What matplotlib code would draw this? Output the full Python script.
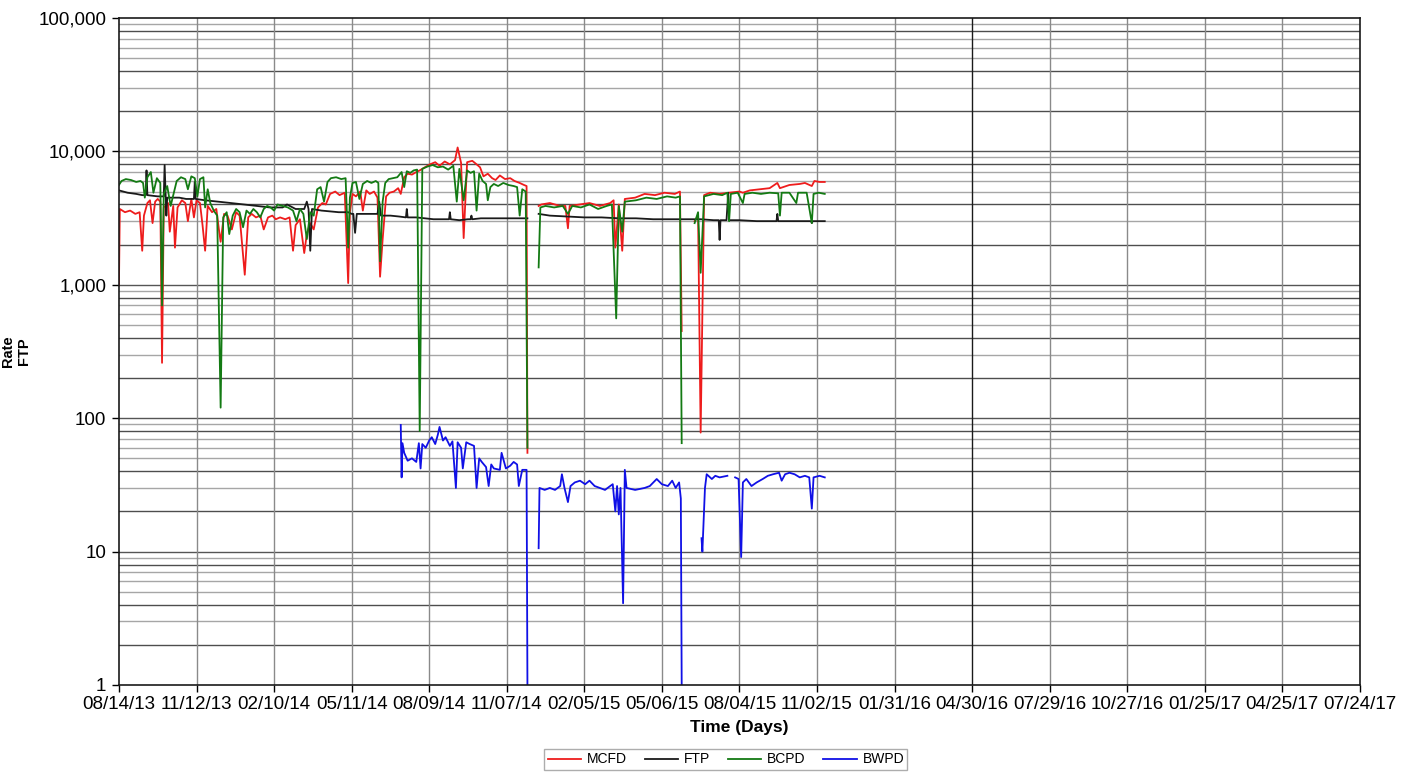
import numpy as np
import matplotlib
matplotlib.use("Agg")
import matplotlib.pyplot as plt
from matplotlib.ticker import FixedLocator, NullFormatter

plt.rcParams["font.family"] = ["Liberation Sans", "DejaVu Sans"]

START = np.datetime64("2013-08-14")
NAN = np.nan

# days since 08/14/13 and rates
mcfd_day = [0, 1, 7, 13, 19, 24, 27, 29, 33, 36, 39, 42, 45, 48, 50, 52, 57, 59, 63, 65,
            68, 73, 77, 80, 84, 87, 90, 94, 97, 100, 103, 108, 113, 116, 118, 122, 126, 131, 136, 140,
            146, 150, 154, 159, 164, 168, 173, 178, 182, 187, 193, 198, 202, 205, 210, 215, 218, 222, 226, 231,
            236, 240, 245, 251, 256, 262, 266, 268, 271, 275, 280, 283, 287, 291, 296, 300, 303, 306, 310, 314,
            319, 324, 327, 331, 335, 340, 345, 349, 355, 361, 367, 372, 378, 384, 390, 393, 397, 400, 404, 410,
            415, 419, 423, 428, 433, 437, 442, 448, 454, 459, 465, 470, 473, 474, 480,
            487, 490, 500, 512, 518, 521, 523, 535, 546, 558, 570, 574, 576, 580, 584, 587, 599, 610, 622, 633,
            645, 651, 653, 660, 668, 672, 675, 679, 686, 697, 708, 720, 724, 732, 744, 755, 764, 767, 778, 790,
            796, 804, 807, 813, 819]
mcfd_val = [1000, 3700, 3500, 3600, 3400, 3500, 1800, 3300, 4100, 4300, 2900, 4200, 4400, 4200, 260, 3800, 4100, 2500, 3900, 1900,
            3800, 4300, 4100, 3000, 4400, 3200, 4300, 4100, 2800, 1800, 3900, 3500, 3700, 2600, 2100, 3400, 3300, 2600, 3500, 3300,
            1190, 3200, 3400, 3200, 3300, 2600, 3200, 3300, 3100, 3200, 3100, 3200, 1800, 2800, 3100, 1730, 2400, 2900, 2600, 3800,
            4100, 4000, 4800, 5000, 4700, 4900, 1030, 3500, 4800, 4600, 5000, 3600, 5100, 4800, 5000, 4500, 1150, 2200, 4600, 4900,
            5000, 5300, 4800, 6400, 6800, 6700, 7000, 7200, 7600, 8000, 8300, 7800, 8400, 8000, 8600, 10700, 8200, 2240, 8300, 8500,
            8000, 7600, 6500, 6800, 6300, 6100, 6600, 6200, 6300, 6000, 5800, 5600, 5500, 55, NAN,
            3900, 4000, 4100, 3900, 3900, 2650, 3900, 4000, 4100, 3900, 4100, 4300, 1900, 4000, 1800, 4400, 4500, 4800, 4700, 4900,
            4800, 5000, 450, NAN, 3000, 3300, 78, 4700, 4900, 4800, 4900, 5000, 4900, 5100, 5200, 5300, 5800, 5300, 5600, 5700,
            5800, 5500, 6000, 5900, 5900]

ftp_day = [0, 5, 10, 20, 27, 31, 32, 33, 45, 52, 53, 55, 56, 70, 78, 87, 88, 89, 100, 115,
           130, 145, 160, 175, 190, 195, 205, 215, 218, 220, 222, 224, 235, 245, 255, 266, 270, 272, 274, 276,
           290, 300, 302, 304, 315, 325, 333, 334, 335, 345, 355, 365, 375, 383, 384, 385, 395, 405, 408, 409,
           410, 420, 435, 450, 465, 474, 480,
           487, 500, 520, 540, 560, 580, 600, 620, 640, 653, 660, 675, 690, 696, 697, 698, 705, 707, 708,
           720, 740, 763, 764, 765, 790, 803, 804, 805, 819]
ftp_val = [5100, 5000, 4900, 4800, 4700, 4700, 7200, 4700, 4600, 4600, 7900, 3300, 4500, 4500, 4400, 4400, 5900, 4400, 4300, 4200,
           4100, 4000, 3900, 3800, 3800, 4000, 3700, 3700, 4200, 3700, 1800, 3700, 3600, 3550, 3500, 3500, 3400, 3400, 2450, 3400,
           3400, 3400, 4200, 3300, 3300, 3250, 3200, 3700, 3200, 3200, 3150, 3100, 3100, 3100, 3500, 3100, 3050, 3100, 3100, 3300,
           3100, 3150, 3150, 3150, 3150, 3150, NAN,
           3400, 3300, 3250, 3200, 3200, 3150, 3150, 3100, 3100, 3100, 3100, 3100, 3050, 3050, 2170, 3050, 3050, 4900, 3050,
           3050, 3000, 3000, 3400, 3000, 3000, 3000, 2900, 3000, 3000]

bcpd_day = [0, 3, 8, 14, 20, 25, 28, 30, 33, 37, 40, 44, 48, 50, 52, 56, 60, 64, 67, 72,
            77, 80, 84, 88, 91, 94, 98, 100, 103, 106, 110, 114, 118, 121, 125, 128, 132, 136, 140, 144,
            148, 152, 156, 160, 164, 168, 172, 176, 180, 184, 190, 196, 202, 206, 210, 214, 218, 222, 226, 230,
            234, 238, 242, 246, 252, 258, 263, 266, 268, 271, 275, 279, 283, 288, 293, 298, 301, 303, 306, 309,
            313, 318, 323, 328, 331, 334, 338, 342, 346, 349, 352, 358, 364, 370, 376, 382, 388, 392, 395, 400,
            404, 408, 412, 415, 418, 422, 426, 428, 431, 435, 440, 446, 452, 458, 462, 465, 468, 472, 474, 480,
            487, 489, 495, 505, 515, 521, 526, 536, 546, 556, 566, 572, 577, 580, 584, 587, 600, 612, 624, 636,
            646, 651, 653, 660, 668, 672, 675, 679, 690, 700, 706, 708, 710, 718, 724, 726, 735, 745, 755, 765,
            767, 769, 778, 786, 788, 798, 804, 806, 812, 819]
bcpd_val = [5600, 6000, 6200, 6100, 5900, 6000, 5800, 4500, 6400, 7000, 4900, 6300, 5800, 700, 4800, 5500, 3900, 5000, 6000, 6400,
            6200, 5200, 6500, 6300, 4600, 6200, 6400, 3800, 5200, 4100, 3600, 3300, 120, 3200, 3500, 2400, 3300, 3700, 3500, 2700,
            3600, 3400, 3700, 3500, 3200, 3700, 3900, 3800, 3600, 4000, 3900, 3800, 3600, 3000, 3700, 3400, 2200, 3500, 3300, 5200,
            5400, 4200, 5900, 6300, 6400, 6200, 6300, 1900, 4500, 5800, 5900, 4400, 5700, 6000, 5800, 6000, 5800, 1500, 4200, 5800,
            6200, 6300, 6400, 7000, 5400, 7100, 6900, 7200, 7300, 80, 7400, 7700, 7900, 7600, 7700, 7300, 7800, 4200, 7400, 4300,
            7200, 6900, 7100, 3600, 6800, 6000, 5700, 4300, 5400, 5700, 5500, 5800, 5600, 5500, 5400, 3300, 5200, 5000, 60, NAN,
            1350, 3800, 3900, 3800, 3900, 3400, 3900, 3800, 4000, 3700, 3900, 4000, 560, 3900, 2500, 4200, 4300, 4500, 4400, 4600,
            4500, 4600, 65, NAN, 2900, 3500, 1230, 4600, 4800, 4700, 4900, 3000, 4800, 4900, 4100, 4800, 4900, 4800, 4900, 4850,
            3300, 4900, 4900, 4100, 4900, 4900, 2900, 4800, 4900, 4800]

bwpd_day = [327, 328, 329, 331, 335, 340, 345, 348, 350, 352, 356, 360, 363, 367, 370, 372, 376, 379, 384, 387,
            391, 393, 397, 399, 403, 407, 412, 415, 418, 421, 426, 429, 432, 435, 442, 444, 449, 454, 458, 462,
            464, 468, 473, 474, 480,
            487, 488, 494, 500, 506, 512, 514, 517, 521, 524, 529, 535, 541, 546, 552, 558, 564, 570, 573, 576,
            578, 580, 582, 585, 587, 589, 599, 610, 616, 624, 630, 637, 642, 646, 650, 652, 653, 665,
            676, 677, 680, 682, 688, 692, 697, 706, 710,
            715, 719, 722, 724, 728, 734, 740, 747, 753, 759, 766, 769, 773, 778, 784, 790, 796, 801, 804, 806,
            813, 819]
bwpd_val = [89, 36, 65, 55, 48, 50, 47, 65, 42, 64, 60, 68, 72, 64, 75, 86, 68, 72, 62, 67,
            30, 66, 60, 42, 66, 64, 62, 30, 50, 47, 43, 31, 45, 42, 41, 55, 42, 44, 47, 45,
            31, 41, 41, 1, NAN,
            10.6, 30, 29, 30, 29, 31, 38, 30, 23.5, 31, 33, 34, 32, 34, 31, 30, 29, 31, 32, 20,
            31, 19, 30, 4.1, 41, 30, 29, 30, 31, 35, 32, 31, 34, 30, 33, 25, 1, NAN,
            12.6, 10, 30, 38, 35, 37, 36, 37, NAN,
            36, 35, 9.1, 33, 35, 31, 33, 35, 37, 38, 39, 34, 38, 39, 38, 36, 37, 36, 21, 36,
            37, 36]

tick_labels = ["08/14/13", "11/12/13", "02/10/14", "05/11/14", "08/09/14", "11/07/14",
               "02/05/15", "05/06/15", "08/04/15", "11/02/15", "01/31/16", "04/30/16",
               "07/29/16", "10/27/16", "01/25/17", "04/25/17", "07/24/17"]
y_labels = ["1", "10", "100", "1,000", "10,000", "100,000"]

series = [
    ("MCFD", mcfd_day, mcfd_val, "#ee1c1c"),
    ("FTP", ftp_day, ftp_val, "#1a1a1a"),
    ("BCPD", bcpd_day, bcpd_val, "#137a13"),
    ("BWPD", bwpd_day, bwpd_val, "#1010e6"),
]


def to_dates(days):
    return START + np.array(days, dtype="timedelta64[D]")


fig = plt.figure(figsize=(14.11, 7.72), dpi=100)
fig.patch.set_facecolor("white")
ax = fig.add_axes([0.0843, 0.1127, 0.8795, 0.864])

# grid: decades dark, minor lines gray (some darker, as in the source)
for dec in [1, 10, 100, 1000, 10000]:
    for m in range(2, 10):
        col = "#4d4d4d" if m in (2, 4, 8) else "#a6a6a6"
        ax.axhline(dec * m, color=col, lw=1.0, zorder=0)
for dec in [10, 100, 1000, 10000]:
    ax.axhline(dec, color="#555555", lw=1.0, zorder=0)

tick_pos = to_dates([90 * k for k in range(len(tick_labels))])
for i, t in enumerate(tick_pos[1:-1], start=1):
    col = "#1a1a1a" if tick_labels[i] == "04/30/16" else "#8a8a8a"
    ax.axvline(t, color=col, lw=1.0, zorder=0)

for name, d, v, c in series:
    ax.plot(to_dates(d), v, color=c, lw=1.3, label=name, zorder=2)

ax.set_yscale("log")
ax.set_ylim(1, 100000)
ax.set_xlim(tick_pos[0], tick_pos[-1])
ax.yaxis.set_major_locator(FixedLocator([10 ** k for k in range(6)]))
ax.yaxis.set_minor_locator(FixedLocator([]))
ax.yaxis.set_minor_formatter(NullFormatter())
ax.set_yticklabels(y_labels)
ax.set_xticks(tick_pos)
ax.set_xticklabels(tick_labels)
ax.tick_params(axis="both", which="major", labelsize=13.5, direction="out", length=5, width=1, color="black")
ax.tick_params(axis="x", pad=3)
ax.tick_params(axis="y", pad=4)

for s in ax.spines.values():
    s.set_color("#1a1a1a")
    s.set_linewidth(1.2)

ax.set_xlabel("Time (Days)", fontsize=12.5, weight="bold", labelpad=5)
fig.text(0.0115, 0.545, "Rate\nFTP", rotation=90, ha="center", va="center", fontsize=10.5, weight="bold", linespacing=1.2)

leg = fig.legend(loc="upper center", bbox_to_anchor=(0.5145, 1 - 749 / 772), ncol=4, fontsize=10,
                 frameon=True, fancybox=False, edgecolor="#999999", handlelength=2.4, columnspacing=1.3,
                 borderpad=0.25, handletextpad=0.4, borderaxespad=0)
leg.get_frame().set_linewidth(1.0)
for line in leg.get_lines():
    line.set_linewidth(1.3)

fig.savefig("out.png", dpi=100, facecolor="white")
